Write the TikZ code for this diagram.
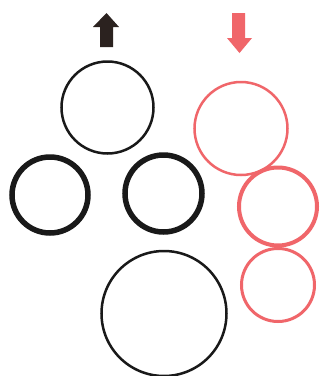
\documentclass[tikz,border=0pt]{standalone}
\begin{document}
\begin{tikzpicture}[x=1pt,y=-1pt,
  blk/.style={circle,draw=black!90,inner sep=0pt,outer sep=0pt},
  redc/.style={circle,draw=redcol,inner sep=0pt,outer sep=0pt}]
\definecolor{redcol}{HTML}{F0666A}
\definecolor{arrblk}{HTML}{2B221F}
\useasboundingbox (0,0) rectangle (320,376);
\fill[white] (0,0) rectangle (320,376);
% black arrow up
\fill[arrblk] (100,47) -- (100,27) -- (93,27) -- (106.5,13) -- (119,27) -- (113,27) -- (113,47) -- cycle;
% red arrow down
\fill[redcol] (232,13) -- (245,13) -- (245,38) -- (252,38) -- (239.5,53) -- (227,38) -- (232,38) -- cycle;
% black circles
\node[blk,line width=2.5pt,minimum size=92pt] (topb) at (107.5,107.5) {};
\node[blk,line width=5.5pt,minimum size=76pt] (leftb) at (50,195) {};
\node[blk,line width=5.5pt,minimum size=77pt] (midb) at (163.5,193.5) {};
\node[blk,line width=2.5pt,minimum size=125pt] (botb) at (164,313.5) {};
% red circles
\node[redc,line width=2.5pt,minimum size=93pt] (topr) at (241,128.5) {};
\node[redc,line width=4pt,minimum size=78pt] (midr) at (278,206.5) {};
\node[redc,line width=3pt,minimum size=73pt] (botr) at (278,285) {};
\end{tikzpicture}
\end{document}
